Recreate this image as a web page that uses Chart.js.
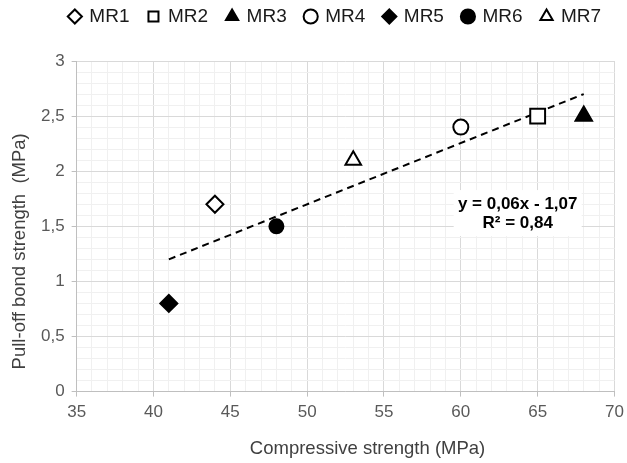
<!DOCTYPE html>
<html><head><meta charset="utf-8">
<script src="https://cdn.jsdelivr.net/npm/chart.js@4"></script>
<style>html,body{margin:0;padding:0;background:#fff}#wrap{width:627px;height:463px}</style>
</head><body><div id="wrap"><canvas id="c" width="627" height="463"></canvas></div>
<script>
const seriesNames = ['MR1','MR2','MR3','MR4','MR5','MR6','MR7'];
const compressive = [44, 65, 68, 60, 41, 48, 53];
const pullOff = [1.7, 2.5, 2.5, 2.4, 0.8, 1.5, 2.1];
const markerStyles = ['rectRot','rect','triangle','circle','rectRot','circle','triangle'];
const markerFilled = [false,false,true,false,true,true,false];
const markerRadius = [8.5, 10.5, 9.5, 7.5, 8.5, 7, 9];
const trendX = [41, 68];
const trendY = [1.2, 2.7];
const equationText = ['y = 0,06x - 1,07', 'R² = 0,84'];
const equationPos = [63.7, 1.62];
const xTitle = 'Compressive strength (MPa)';
const yTitle = 'Pull-off bond strength  (MPa)';
const FONT = '"Liberation Sans", Arial, sans-serif';

const datasets = seriesNames.map((n,i)=>({
  type:'scatter', label:n,
  data:[{x:compressive[i], y:pullOff[i]}],
  pointStyle: markerStyles[i],
  pointRadius: markerRadius[i],
  pointBackgroundColor: markerFilled[i]?'#000':'#fff',
  backgroundColor: markerFilled[i]?'#000':'#fff',
  pointBorderColor:'#000', borderColor:'#000',
  pointBorderWidth:2, borderWidth:2, order:1
}));
datasets.push({
  type:'line', label:'trend',
  data: trendX.map((x,i)=>({x, y:trendY[i]})),
  borderColor:'#000', borderWidth:2, borderDash:[7,5], pointRadius:0, fill:false, order:2
});

const decorPlugin = {
  id:'decor',
  beforeLayout(chart){
    const lg = chart.legend;
    if (lg && !lg._wrapped){
      const f = lg.fit;
      lg.fit = function(){ f.call(this); this.height = 73; };
      lg._wrapped = true;
    }
  },
  afterLayout(chart){
    const lg = chart.legend;
    if (lg){ lg.left += 7; lg.right += 7; }
  },
  afterDatasetsDraw(chart){
    const {ctx, scales:{x,y}} = chart;
    const px = x.getPixelForValue(equationPos[0]);
    const py = y.getPixelForValue(equationPos[1]);
    ctx.save();
    ctx.font = 'bold 17px ' + FONT;
    ctx.fillStyle = '#fff';
    ctx.fillRect(px-64, py-23, 128, 46);
    ctx.fillStyle = '#000';
    ctx.textAlign='center'; ctx.textBaseline='middle';
    ctx.fillText(equationText[0], px, py-9);
    ctx.fillText(equationText[1], px, py+10);
    ctx.restore();
  },
  afterDraw(chart){
    const {ctx, scales:{x,y}} = chart;
    ctx.save();
    ctx.fillStyle = '#404040';
    ctx.font = '18.5px ' + FONT;
    ctx.textAlign='center'; ctx.textBaseline='middle';
    ctx.fillText(xTitle, (x.left+x.right)/2 + 22, 449);
    ctx.translate(20, (y.top+y.bottom)/2 + 25);
    ctx.rotate(-Math.PI/2);
    ctx.fillText(yTitle, 0, 0);
    ctx.restore();
  }
};

const isMajorX = v => Math.round(v) % 5 === 0;
const isMajorY = v => Math.round(v*10) % 5 === 0;

new Chart(document.getElementById('c'), {
  data:{datasets},
  plugins:[decorPlugin],
  options:{
    responsive:false, animation:false,
    layout:{padding:{left:34,right:4,top:-12,bottom:34}},
    plugins:{
      legend:{
        position:'top',
        labels:{
          usePointStyle:true, boxWidth:10, boxHeight:10, padding:19,
          color:'#1a1a1a', font:{family:FONT, size:19},
          filter: item => item.text !== 'trend'
        }
      },
      tooltip:{enabled:false}
    },
    scales:{
      x:{
        type:'linear', min:35, max:70,
        afterFit: s => { s.paddingRight = 12; },
        ticks:{stepSize:1, autoSkip:false, maxRotation:0, color:'#595959', padding:6,
          font:{family:FONT, size:17},
          callback: v => isMajorX(v) ? String(v) : ''},
        grid:{color: c => isMajorX(c.tick.value) ? '#d9d9d9' : '#f0f0f0',
          tickColor: c => isMajorX(c.tick.value) ? '#bfbfbf' : 'rgba(0,0,0,0)', tickLength:5},
        border:{color:'#bfbfbf'}
      },
      y:{
        type:'linear', min:0, max:3,
        ticks:{stepSize:0.1, autoSkip:false, color:'#595959', padding:7,
          font:{family:FONT, size:17},
          callback: v => isMajorY(v) ? String(Math.round(v*10)/10).replace('.',',') : ''},
        grid:{color: c => isMajorY(c.tick.value) ? '#d9d9d9' : '#f0f0f0',
          tickColor: c => isMajorY(c.tick.value) ? '#bfbfbf' : 'rgba(0,0,0,0)', tickLength:5},
        border:{color:'#bfbfbf'}
      }
    }
  }
});
</script></body></html>
